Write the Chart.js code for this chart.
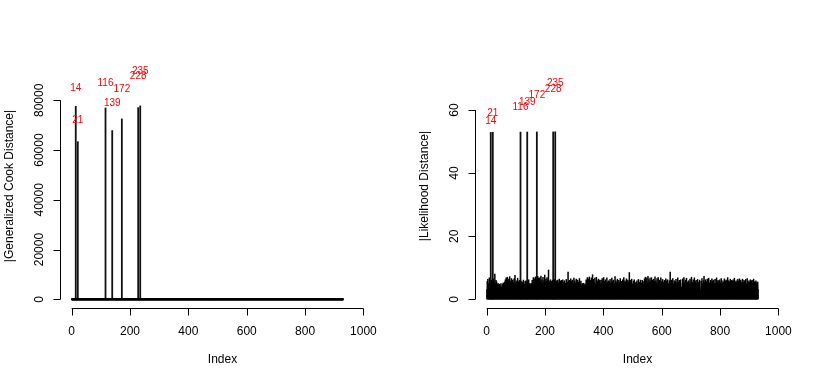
<!DOCTYPE html>
<html>
<head>
<meta charset="utf-8">
<script src="https://cdn.jsdelivr.net/npm/chart.js@4/dist/chart.umd.min.js"></script>
<style>
  html, body { margin: 0; padding: 0; background: #fff; }
  #wrap { display: flex; width: 830px; height: 383px; }
  canvas { display: block; }
</style>
</head>
<body>
<div id="wrap">
  <canvas id="cookChart" width="415" height="383"></canvas>
  <canvas id="ldChart" width="415" height="383"></canvas>
</div>
<script>
/* ── Data ── */
const N = 930;
const outlierIdx = [14, 21, 116, 139, 172, 228, 235];
const outlierText = ['14', '21', '116', '139', '172', '228', '235'];

const cookVal    = [77700, 63500, 77060, 67940, 72640, 77190, 77870];
const cookLabelY = [84800, 72100, 86800, 78800, 84400, 89800, 91500];

const ldVal    = [53.0, 53.05, 53.1, 53.12, 53.14, 53.16, 53.18];
const ldLabelY = [56.5, 59.0, 61.0, 62.6, 64.8, 66.6, 68.5];

const xTicks    = [0, 200, 400, 600, 800, 1000];
const cookTicks = [0, 20000, 40000, 60000, 80000];
const ldTicks   = [0, 20, 40, 60];

/* everything but the outliers sits at ~0 on the Cook scale */
const cookRest = new Array(N).fill(0);

/* likelihood distance, obs 1..930 */
const ldNoise = [
  3.2, 5.8, 2.1, 6.4, 4.0, 1.7, 5.1, 3.6, 6.9, 2.4, 4.7, 5.5, 1.9, 4.4, 3.8, 6.2, 2.7, 4.9, 5.6, 1.4, 3.0, 3.1, 6.6, 4.4, 2.2, 5.3, 3.9, 8.1, 2.6, 5.0,
  4.2, 6.1, 2.9, 5.7, 1.6, 3.4, 4.8, 2.0, 5.2, 3.3, 1.8, 4.6, 2.5, 4.9, 3.0, 1.2, 4.4, 2.8, 5.1, 3.7, 2.3, 4.1, 1.5, 3.6, 4.9, 2.7, 5.3, 3.2, 1.9, 4.5,
  3.8, 5.6, 2.4, 6.3, 4.1, 1.7, 6.9, 3.5, 5.2, 2.6, 7.1, 4.3, 1.9, 5.8, 3.0, 6.5, 2.2, 4.7, 7.3, 3.4, 1.6, 5.9, 4.0, 2.8, 6.7, 3.6, 5.0, 2.1, 6.2, 4.4,
  3.1, 5.4, 2.5, 6.6, 4.2, 1.8, 7.7, 3.9, 5.1, 2.3, 6.0, 4.6, 1.4, 5.5, 3.2, 6.8, 2.7, 4.3, 5.7, 3.0, 1.9, 6.1, 4.5, 2.6, 5.3, 4.1, 3.4, 5.9, 2.0, 4.8,
  4.0, 2.2, 5.6, 3.3, 1.6, 6.2, 4.4, 2.9, 5.0, 3.7, 1.3, 5.8, 4.1, 2.4, 6.0, 3.5, 1.8, 4.9, 3.9, 2.7, 5.4, 3.9, 1.5, 6.3, 4.2, 2.6, 5.1, 3.0, 4.7, 2.0,
  3.6, 5.2, 2.3, 4.8, 1.7, 6.1, 3.4, 5.7, 2.8, 7.0, 4.3, 1.9, 6.6, 3.1, 5.5, 2.5, 7.2, 4.0, 1.6, 6.4, 3.8, 4.2, 5.9, 2.4, 7.4, 4.6, 3.0, 6.8, 2.1, 5.3,
  4.1, 6.9, 2.7, 5.6, 3.3, 7.5, 1.8, 4.9, 6.3, 2.6, 5.1, 3.7, 7.1, 4.4, 2.0, 6.0, 3.2, 5.4, 7.8, 2.9, 4.6, 1.7, 6.5, 3.5, 5.8, 2.3, 7.0, 4.2, 3.0, 6.2,
  5.1, 9.4, 3.3, 6.0, 2.4, 4.7, 5.5, 1.9, 6.3, 3.6, 4.9, 2.7, 5.8, 3.1, 1.5, 6.1, 4.0, 3.5, 2.8, 5.2, 3.9, 6.4, 1.7, 4.5, 4.6, 3.0, 5.6, 2.2, 6.0, 4.3,
  3.4, 5.7, 2.1, 6.2, 4.0, 1.6, 5.3, 3.2, 6.5, 2.6, 4.8, 1.9, 5.9, 3.7, 2.4, 6.1, 4.4, 1.3, 5.0, 3.5, 6.3, 2.8, 4.6, 1.8, 5.6, 3.1, 6.0, 2.3, 4.9, 3.8,
  5.2, 2.7, 6.4, 3.6, 1.5, 5.5, 4.2, 2.0, 8.7, 3.3, 5.8, 2.5, 6.1, 4.0, 1.7, 5.4, 3.0, 6.6, 2.2, 4.7, 5.9, 3.4, 1.6, 6.2, 4.5, 2.9, 5.1, 3.8, 6.8, 2.4,
  4.3, 6.0, 2.6, 5.3, 3.5, 1.8, 6.5, 4.1, 2.3, 5.7, 3.0, 6.2, 1.9, 4.8, 5.5, 2.7, 3.9, 6.7, 2.1, 5.0, 3.6, 1.4, 5.9, 4.4, 2.8, 4.6, 3.2, 5.1, 2.0, 4.2,
  3.0, 5.2, 1.7, 4.5, 3.8, 2.4, 5.0, 3.3, 1.6, 4.7, 6.3, 2.9, 5.8, 4.1, 7.0, 2.2, 5.5, 3.6, 6.6, 1.9, 4.9, 7.2, 3.4, 5.7, 2.5, 6.1, 4.0, 1.8, 6.9, 3.1,
  5.4, 2.6, 7.9, 4.2, 3.0, 6.4, 1.7, 5.6, 3.9, 2.3, 6.8, 4.5, 1.5, 5.1, 3.3, 7.1, 2.7, 4.8, 6.0, 2.0, 5.3, 3.7, 6.5, 1.8, 4.4, 5.9, 2.9, 6.2, 3.5, 4.7,
  2.4, 6.1, 3.8, 5.0, 1.6, 6.7, 4.3, 2.8, 5.5, 3.2, 7.0, 2.1, 4.6, 5.8, 3.0, 1.9, 6.3, 4.1, 2.5, 5.2, 3.6, 6.9, 1.7, 4.9, 5.6, 2.7, 3.4, 6.0, 4.2, 2.2,
  5.7, 3.1, 6.4, 1.8, 4.5, 3.7, 5.3, 2.4, 6.8, 4.0, 1.5, 5.9, 3.3, 2.6, 6.2, 4.7, 1.9, 5.1, 3.5, 7.3, 2.8, 4.4, 6.0, 2.1, 5.4, 3.9, 1.6, 6.5, 4.2, 3.0,
  4.8, 2.3, 6.1, 3.6, 5.5, 1.7, 4.1, 6.7, 2.9, 5.0, 3.2, 1.4, 5.8, 4.5, 2.6, 6.3, 3.8, 2.0, 5.2, 7.0, 3.4, 1.8, 4.9, 6.0, 2.5, 5.6, 3.1, 4.3, 6.6, 2.2,
  3.9, 5.3, 2.7, 6.2, 4.4, 1.6, 5.7, 3.0, 8.6, 2.4, 4.8, 6.1, 1.9, 3.5, 5.4, 2.8, 6.5, 4.0, 2.1, 5.0, 3.7, 1.5, 5.9, 4.6, 2.6, 6.3, 3.3, 1.8, 5.2, 4.1,
  2.9, 5.6, 3.4, 1.7, 6.0, 4.2, 2.5, 5.1, 3.8, 6.4, 1.9, 4.7, 3.1, 5.5, 2.2, 4.0, 6.2, 3.6, 1.6, 5.3, 2.8, 4.5, 6.1, 3.0, 1.8, 5.8, 4.3, 2.4, 5.0, 3.5,
  6.6, 2.7, 4.9, 7.1, 3.2, 1.7, 5.7, 4.0, 6.9, 2.3, 5.2, 3.6, 7.4, 1.9, 4.6, 6.3, 2.8, 5.5, 3.3, 6.8, 4.1, 2.0, 5.9, 3.7, 7.0, 2.5, 4.4, 6.1, 3.0, 5.4,
  1.8, 6.5, 4.2, 2.9, 5.8, 3.4, 7.2, 2.1, 4.8, 6.0, 3.6, 1.6, 5.3, 6.7, 2.6, 4.5, 3.1, 7.0, 2.4, 5.6, 4.0, 1.7, 6.2, 3.8, 5.0, 2.2, 6.9, 4.3, 3.2, 5.7,
  2.7, 4.6, 6.4, 3.0, 1.9, 5.5, 4.1, 2.5, 6.1, 3.7, 5.2, 1.6, 4.8, 6.6, 2.9, 3.5, 5.9, 2.2, 4.4, 6.3, 3.2, 1.8, 5.1, 4.0, 2.6, 6.0, 3.4, 5.6, 8.7, 2.3,
  4.9, 3.1, 6.2, 1.7, 5.4, 3.8, 2.4, 6.7, 4.3, 1.5, 5.0, 3.3, 6.0, 2.7, 4.6, 5.8, 2.0, 3.6, 6.4, 4.1, 2.8, 5.3, 1.9, 4.7, 6.9, 3.0, 2.2, 5.5, 3.9, 6.1,
  4.4, 2.6, 5.7, 3.2, 6.3, 1.8, 4.0, 2.1, 1.5, 3.4, 5.1, 6.6, 2.9, 4.8, 3.5, 7.0, 2.3, 5.4, 4.2, 1.7, 6.2, 3.7, 5.0, 2.5, 6.8, 4.5, 3.0, 1.9, 5.6, 4.1,
  2.8, 6.0, 3.6, 5.3, 1.6, 4.7, 6.5, 2.4, 3.9, 5.8, 2.0, 7.1, 4.4, 3.1, 5.5, 1.8, 4.2, 6.3, 2.7, 5.0, 3.4, 6.9, 2.2, 4.6, 5.7, 1.5, 3.8, 6.1, 4.0, 2.9,
  5.2, 3.3, 6.4, 2.1, 4.9, 3.7, 5.6, 1.9, 4.3, 6.2, 2.6, 1.4, 2.0, 3.1, 5.8, 4.0, 2.5, 6.7, 3.5, 5.1, 1.7, 4.6, 6.0, 2.8, 7.4, 3.9, 5.4, 2.2, 4.8, 6.3,
  3.0, 1.8, 5.7, 4.4, 2.7, 6.5, 3.6, 5.0, 2.3, 4.1, 6.8, 1.6, 5.3, 3.2, 4.7, 2.0, 6.1, 3.8, 5.5, 2.6, 4.3, 6.6, 1.9, 3.4, 5.9, 4.5, 2.4, 6.2, 3.1, 5.2,
  1.7, 4.8, 6.4, 2.9, 5.1, 3.5, 2.2, 6.9, 4.0, 1.5, 5.6, 3.3, 6.1, 2.5, 4.6, 5.8, 1.8, 3.7, 6.3, 4.2, 2.7, 5.4, 3.0, 6.7, 2.1, 4.9, 5.2, 3.6, 1.6, 6.0,
  4.3, 2.8, 5.5, 3.9, 6.6, 2.0, 4.7, 5.9, 3.2, 1.7, 6.2, 4.1, 2.6, 5.0, 3.4, 7.0, 2.3, 4.5, 6.0, 1.9, 3.6, 5.7, 4.4, 2.4, 6.5, 3.1, 5.3, 1.6, 4.9, 6.1,
  3.5, 2.1, 5.8, 4.2, 6.3, 1.8, 3.0, 5.2, 6.8, 2.7, 4.6, 3.3, 5.6, 1.5, 6.0, 4.0, 2.5, 5.4, 3.8, 6.4, 2.2, 4.8, 1.9, 5.9, 3.2, 6.6, 4.4, 2.9, 5.1, 3.6,
  6.2, 2.4, 4.9, 3.7, 5.5, 1.6, 6.5, 4.1, 2.8, 5.3, 3.0, 6.1, 1.9, 4.5, 5.8, 2.6, 3.9, 6.4, 4.3, 2.0, 5.0, 3.4, 6.7, 1.7, 4.7, 5.6, 2.3, 3.5, 6.0, 4.0,
  2.7, 5.4, 3.8, 6.3, 1.8, 4.6, 5.9, 3.1, 2.2, 6.1, 4.4, 1.6, 5.2, 3.6, 6.5, 2.5, 4.9, 5.7, 3.0, 1.9, 5.5, 4.1, 6.0, 2.8, 3.7, 5.3, 2.1, 4.8, 5.6, 3.3,
];

/* ── Helpers ── */
const FONT = "'Liberation Sans', Arial, Helvetica, sans-serif";
const asPoints = vals => vals.map((v, i) => ({ x: i + 1, y: v }));
const outlierPoints = vals => outlierIdx.map((ix, i) => ({ x: ix, y: vals[i] }));

/* R-style axes: line only between first and last tick, ticks pointing out */
const rAxes = {
  id: 'rAxes',
  afterDraw(chart, args, opts) {
    const { ctx, chartArea: a } = chart;
    const xs = chart.scales.x, ys = chart.scales.y;
    ctx.save();
    ctx.strokeStyle = '#000';
    ctx.fillStyle = '#000';
    ctx.lineWidth = 1;
    ctx.font = '12px ' + FONT;

    /* x axis */
    const yb = Math.round(a.bottom) - 0.5;
    ctx.beginPath();
    ctx.moveTo(xs.getPixelForValue(xTicks[0]), yb);
    ctx.lineTo(xs.getPixelForValue(xTicks[xTicks.length - 1]), yb);
    for (const t of xTicks) {
      const px = Math.round(xs.getPixelForValue(t)) + 0.5;
      ctx.moveTo(px, yb);
      ctx.lineTo(px, yb + 7);
    }
    ctx.stroke();
    ctx.textAlign = 'center';
    ctx.textBaseline = 'middle';
    for (const t of xTicks) ctx.fillText(String(t), xs.getPixelForValue(t), yb + 23);
    ctx.fillText('Index', (a.left + a.right) / 2, yb + 51.5);

    /* y axis */
    const xl = Math.round(a.left) + 0.5;
    const yt = opts.ticks;
    ctx.beginPath();
    ctx.moveTo(xl, ys.getPixelForValue(yt[0]));
    ctx.lineTo(xl, ys.getPixelForValue(yt[yt.length - 1]));
    for (const t of yt) {
      const py = Math.round(ys.getPixelForValue(t)) + 0.5;
      ctx.moveTo(xl, py);
      ctx.lineTo(xl - 7, py);
    }
    ctx.stroke();
    for (const t of yt) {
      ctx.save();
      ctx.translate(xl - 20.5, ys.getPixelForValue(t));
      ctx.rotate(-Math.PI / 2);
      ctx.fillText(String(t), 0, 0);
      ctx.restore();
    }
    ctx.save();
    ctx.translate(xl - 51, (a.top + a.bottom) / 2 + 2);
    ctx.rotate(-Math.PI / 2);
    ctx.fillText(opts.title, 0, 0);
    ctx.restore();

    /* red outlier labels */
    ctx.fillStyle = '#ff0000';
    ctx.font = '10px ' + FONT;
    outlierIdx.forEach((ix, i) => {
      ctx.fillText(outlierText[i], xs.getPixelForValue(ix), ys.getPixelForValue(opts.labelY[i]));
    });
    ctx.restore();
  }
};

function makeChart(id, base, spikes, yMin, yMax, ticks, title, labelY, minLen, baseWidth) {
  return new Chart(document.getElementById(id), {
    type: 'bar',
    data: {
      datasets: [
        {
          data: asPoints(base),
          backgroundColor: '#000',
          barThickness: baseWidth,
          minBarLength: minLen,
          inflateAmount: 0,
          grouped: false,
        },
        {
          data: outlierPoints(spikes),
          backgroundColor: '#111',
          barThickness: 1.8,
          inflateAmount: 0,
          grouped: false,
        },
      ],
    },
    options: {
      responsive: false,
      animation: false,
      devicePixelRatio: 1,
      layout: { padding: { left: 60, right: 30, top: 59, bottom: 74 } },
      scales: {
        x: { type: 'linear', min: -40, max: 1074, offset: false, display: false },
        y: { type: 'linear', min: yMin, max: yMax, display: false },
      },
      plugins: {
        legend: { display: false },
        tooltip: { enabled: false },
        rAxes: { ticks, title, labelY },
      },
    },
    plugins: [rAxes],
  });
}

makeChart('cookChart', cookRest, cookVal, -3900, 96600, cookTicks,
  '|Generalized Cook Distance|', cookLabelY, 2, 1.6);
makeChart('ldChart', ldNoise, ldVal, -3.07, 76.16, ldTicks,
  '|Likelihood Distance|', ldLabelY, 0, 1.5);
</script>
</body>
</html>
